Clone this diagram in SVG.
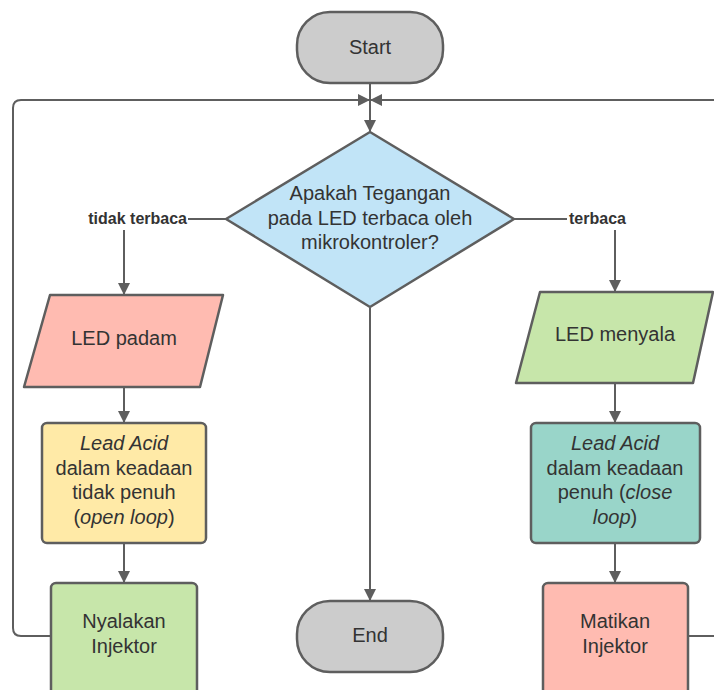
<svg xmlns="http://www.w3.org/2000/svg" width="714" height="690" viewBox="0 0 714 690">
<defs>
<marker id="ah" markerWidth="12" markerHeight="12" refX="11" refY="6" orient="auto" markerUnits="userSpaceOnUse">
<path d="M0,0 L12,6 L0,12 Z" fill="#5e5e5e"/>
</marker>
<style>
.s{stroke:#5e5e5e;stroke-width:2.5;stroke-linejoin:round}
.c{fill:none;stroke:#5e5e5e;stroke-width:2}
.t{font-family:"Liberation Sans",Arial,sans-serif;font-size:20px;fill:#333333;text-anchor:middle}
.b{font-family:"Liberation Sans",Arial,sans-serif;font-size:16px;font-weight:bold;fill:#333333}
.i{font-style:italic}
</style>
</defs>
<rect width="714" height="690" fill="#ffffff"/>
<g id="connectors">
<line class="c" x1="370" y1="84" x2="370" y2="131" marker-end="url(#ah)"/>
<path class="c" d="M51,636 L21,636 Q13,636 13,628 L13,108 Q13,100 21,100 L369,100" marker-end="url(#ah)"/>
<path class="c" d="M716,100 L371,100" marker-end="url(#ah)"/>
<line class="c" x1="227" y1="219" x2="188" y2="219"/>
<line class="c" x1="124" y1="230" x2="124" y2="294" marker-end="url(#ah)"/>
<line class="c" x1="513" y1="219" x2="567" y2="219"/>
<line class="c" x1="615" y1="230" x2="615" y2="291" marker-end="url(#ah)"/>
<line class="c" x1="370" y1="308" x2="370" y2="600" marker-end="url(#ah)"/>
<line class="c" x1="124" y1="388" x2="124" y2="422" marker-end="url(#ah)"/>
<line class="c" x1="124" y1="544" x2="124" y2="582" marker-end="url(#ah)"/>
<line class="c" x1="615" y1="384" x2="615" y2="422" marker-end="url(#ah)"/>
<line class="c" x1="615" y1="544" x2="615" y2="582" marker-end="url(#ah)"/>
<line class="c" x1="689" y1="636" x2="716" y2="636"/>
<text class="b" x="187" y="224" text-anchor="end">tidak terbaca</text>
<text class="b" x="569" y="224">terbaca</text>
</g>
<g id="start">
<rect class="s" x="297" y="12" width="146" height="71" rx="33" ry="33" fill="#cccccc"/>
<text class="t" x="370" y="54">Start</text>
</g>
<g id="decision">
<path class="s" d="M370,132 L514,219 L370,307 L226,219 Z" fill="#c1e4f7"/>
<text class="t" x="370" y="200">Apakah Tegangan</text>
<text class="t" x="370" y="224.5">pada LED terbaca oleh</text>
<text class="t" x="370" y="249">mikrokontroler?</text>
</g>
<g id="led-padam">
<path class="s" d="M50,295 L223,295 L200,387 L24,387 Z" fill="#ffbbb1"/>
<text class="t" x="124" y="345">LED padam</text>
</g>
<g id="lead-acid-open">
<rect class="s" x="42" y="423" width="164" height="120" rx="5" fill="#ffeaa7"/>
<text class="t" x="124" y="450"><tspan class="i">Lead Acid</tspan></text>
<text class="t" x="124" y="474.5">dalam keadaan</text>
<text class="t" x="124" y="499">tidak penuh</text>
<text class="t" x="124" y="523.5">(<tspan class="i">open loop</tspan>)</text>
</g>
<g id="nyalakan">
<rect class="s" x="51" y="583" width="146" height="120" rx="5" fill="#c7e6aa"/>
<text class="t" x="124" y="628">Nyalakan</text>
<text class="t" x="124" y="653">Injektor</text>
</g>
<g id="end">
<rect class="s" x="297" y="601" width="146" height="71" rx="33" ry="33" fill="#cccccc"/>
<text class="t" x="370" y="642">End</text>
</g>
<g id="led-menyala">
<path class="s" d="M540,292 L713,292 L693,383 L516,383 Z" fill="#c7e6aa"/>
<text class="t" x="615" y="341">LED menyala</text>
</g>
<g id="lead-acid-close">
<rect class="s" x="531" y="423" width="169" height="120" rx="5" fill="#99d5c9"/>
<text class="t" x="615" y="450"><tspan class="i">Lead Acid</tspan></text>
<text class="t" x="615" y="474.5">dalam keadaan</text>
<text class="t" x="615" y="499">penuh (<tspan class="i">close</tspan></text>
<text class="t" x="615" y="523.5"><tspan class="i">loop</tspan>)</text>
</g>
<g id="matikan">
<rect class="s" x="543" y="583" width="145" height="120" rx="5" fill="#ffbbb1"/>
<text class="t" x="615" y="628">Matikan</text>
<text class="t" x="615" y="653">Injektor</text>
</g>
</svg>
